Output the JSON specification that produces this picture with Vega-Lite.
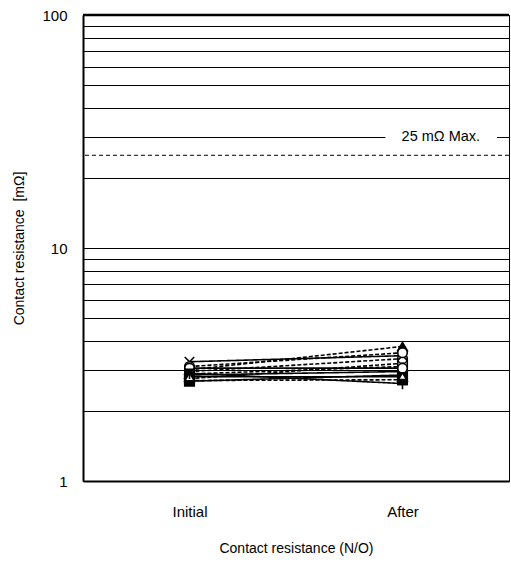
{
  "$schema": "https://vega.github.io/schema/vega-lite/v6.json",
  "width": 426,
  "height": 466,
  "autosize": "none",
  "padding": {"left": 83, "top": 15, "right": 2, "bottom": 87},
  "config": {
    "view": {"stroke": "#000", "strokeWidth": 1},
    "font": "Liberation Sans",
    "axis": {"labelFont": "Liberation Sans", "titleFont": "Liberation Sans", "labelColor": "#000", "titleColor": "#000", "labelFontSize": 15, "titleFontSize": 14, "titleFontWeight": "normal", "domainColor": "#000", "domainWidth": 2, "ticks": false}
  },
  "datasets": {
    "series": [
      {"id": "H", "stage": "Initial", "value": 2.75, "dash": "dashed", "marker": "square", "fill": "open"},
      {"id": "H", "stage": "After", "value": 3.2, "dash": "dashed", "marker": "square", "fill": "open"},
      {"id": "J", "stage": "Initial", "value": 2.7, "dash": "dashed", "marker": "square", "fill": "filled"},
      {"id": "J", "stage": "After", "value": 2.72, "dash": "dashed", "marker": "square", "fill": "filled"},
      {"id": "K", "stage": "Initial", "value": 2.85, "dash": "solid", "marker": "circle", "fill": "open"},
      {"id": "K", "stage": "After", "value": 2.95, "dash": "solid", "marker": "circle", "fill": "open"},
      {"id": "L", "stage": "Initial", "value": 2.88, "dash": "dashed", "marker": "triangle", "fill": "filled"},
      {"id": "L", "stage": "After", "value": 3.1, "dash": "dashed", "marker": "triangle", "fill": "filled"},
      {"id": "I", "stage": "Initial", "value": 2.95, "dash": "dashed", "marker": "circle", "fill": "open"},
      {"id": "I", "stage": "After", "value": 3.35, "dash": "dashed", "marker": "circle", "fill": "open"},
      {"id": "E", "stage": "Initial", "value": 2.68, "dash": "solid", "marker": "square", "fill": "filled"},
      {"id": "E", "stage": "After", "value": 2.85, "dash": "solid", "marker": "square", "fill": "filled"},
      {"id": "C", "stage": "Initial", "value": 3.0, "dash": "dashed", "marker": "triangle", "fill": "filled"},
      {"id": "C", "stage": "After", "value": 3.78, "dash": "dashed", "marker": "triangle", "fill": "filled"},
      {"id": "F", "stage": "Initial", "value": 2.8, "dash": "solid", "marker": "triangle", "fill": "open"},
      {"id": "F", "stage": "After", "value": 2.8, "dash": "solid", "marker": "triangle", "fill": "open"},
      {"id": "A", "stage": "Initial", "value": 3.25, "dash": "solid", "marker": "x", "fill": "filled"},
      {"id": "A", "stage": "After", "value": 3.45, "dash": "solid", "marker": "x", "fill": "filled"},
      {"id": "B", "stage": "Initial", "value": 3.1, "dash": "dashed", "marker": "circle", "fill": "open"},
      {"id": "B", "stage": "After", "value": 3.55, "dash": "dashed", "marker": "circle", "fill": "open"},
      {"id": "D", "stage": "Initial", "value": 3.05, "dash": "solid", "marker": "circle", "fill": "open"},
      {"id": "D", "stage": "After", "value": 3.05, "dash": "solid", "marker": "circle", "fill": "open"},
      {"id": "G", "stage": "Initial", "value": 2.9, "dash": "solid", "marker": "asterisk", "fill": "filled"},
      {"id": "G", "stage": "After", "value": 2.62, "dash": "solid", "marker": "asterisk", "fill": "filled"}
    ],
    "limit": [{"v": 25}],
    "top": [{"v": 100}],
    "label": [{"x1": 0.71, "x2": 0.972, "y1": 27.4, "y2": 32.8, "tx": 0.84, "ty": 30, "text": "25 mΩ Max."}]
  },
  "layer": [
    {
      "layer": [
        {
          "data": {"name": "series"},
          "mark": {"type": "line", "color": "#000", "strokeWidth": 1.6},
          "encoding": {
            "x": {"field": "stage", "type": "ordinal", "sort": ["Initial", "After"], "scale": {"type": "point", "padding": 0.5}, "axis": {"title": "Contact resistance (N/O)", "labelAngle": 0, "labelPadding": 23, "titlePadding": 22, "grid": false}},
            "y": {"field": "value", "type": "quantitative", "scale": {"type": "log", "domain": [1, 100], "nice": false}, "axis": {"title": "Contact resistance \u00a0[mΩ]", "values": [1, 2, 3, 4, 5, 6, 7, 8, 9, 10, 20, 30, 40, 50, 60, 70, 80, 90, 100], "labelExpr": "datum.value == 1 || datum.value == 10 || datum.value == 100 ? datum.value : ''", "grid": true, "gridColor": "#000", "gridOpacity": 1, "gridWidth": 1, "labelPadding": 16, "titlePadding": 15}},
            "detail": {"field": "id"},
            "strokeDash": {"field": "dash", "type": "nominal", "scale": {"domain": ["solid", "dashed"], "range": [[1, 0], [4, 2]]}, "legend": null}
          }
        },
        {
          "data": {"name": "series"},
          "mark": {"type": "point", "stroke": "#000", "strokeWidth": 1.6, "size": 90, "opacity": 1},
          "encoding": {
            "x": {"field": "stage", "type": "ordinal", "sort": ["Initial", "After"]},
            "y": {"field": "value", "type": "quantitative"},
            "shape": {"field": "marker", "type": "nominal", "scale": {"domain": ["x", "circle", "triangle", "square", "asterisk"], "range": ["M-1,-1L1,1M1,-1L-1,1", "circle", "triangle-up", "square", "M-1,-1L0,0L1,-1M0,0L0,1.2M-1.1,0.2L1.1,0.2"]}, "legend": null},
            "fill": {"field": "fill", "type": "nominal", "scale": {"domain": ["filled", "open"], "range": ["#000", "#fff"]}, "legend": null}
          }
        },
        {
          "data": {"name": "limit"},
          "mark": {"type": "rule", "color": "#000", "strokeWidth": 1, "strokeDash": [4, 3]},
          "encoding": {"y": {"field": "v", "type": "quantitative"}}
        },
        {
          "data": {"name": "top"},
          "mark": {"type": "rule", "color": "#000", "strokeWidth": 2.5},
          "encoding": {"y": {"field": "v", "type": "quantitative"}}
        }
      ]
    },
    {
      "data": {"name": "label"},
      "layer": [
        {
          "mark": {"type": "rect", "fill": "#fff"},
          "encoding": {
            "x": {"field": "x1", "type": "quantitative", "scale": {"domain": [0, 1], "nice": false, "zero": false}, "axis": null},
            "x2": {"field": "x2"},
            "y": {"field": "y1", "type": "quantitative"},
            "y2": {"field": "y2"}
          }
        },
        {
          "mark": {"type": "text", "font": "Liberation Sans", "fontSize": 14.5, "color": "#000", "align": "center", "baseline": "middle"},
          "encoding": {
            "x": {"field": "tx", "type": "quantitative"},
            "y": {"field": "ty", "type": "quantitative"},
            "text": {"field": "text"}
          }
        }
      ]
    }
  ],
  "resolve": {"scale": {"x": "independent"}}
}
